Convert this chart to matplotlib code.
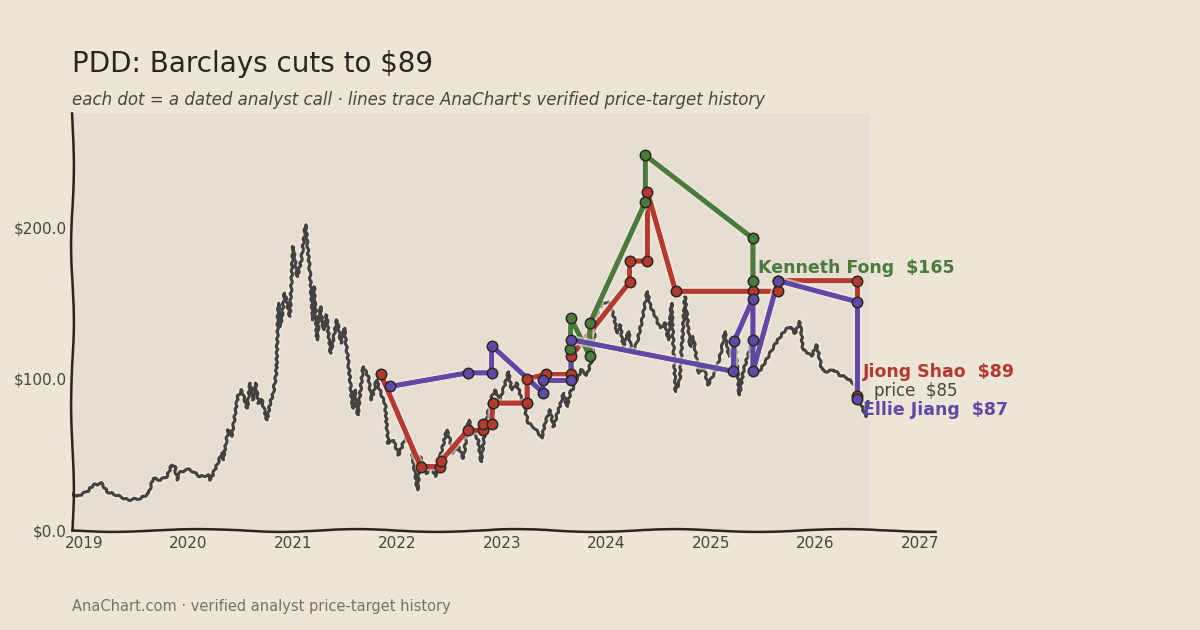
import matplotlib
matplotlib.use("Agg")
import matplotlib.pyplot as plt
import matplotlib.patheffects as pe

# share price (decimal year, USD)
price_dates = [2018.88, 2018.93, 2019.03, 2019.09, 2019.17, 2019.22, 2019.31, 2019.42, 2019.54, 2019.62,
               2019.66, 2019.73, 2019.79, 2019.84, 2019.87, 2019.89, 2019.92, 2020.01, 2020.11, 2020.19,
               2020.21, 2020.25, 2020.32, 2020.33, 2020.38, 2020.41, 2020.43, 2020.47, 2020.51, 2020.56,
               2020.59, 2020.62, 2020.64, 2020.67, 2020.70, 2020.75, 2020.78, 2020.81, 2020.84, 2020.86,
               2020.88, 2020.92, 2020.97, 2021.00, 2021.04, 2021.08, 2021.12, 2021.16, 2021.19, 2021.20,
               2021.23, 2021.26, 2021.29, 2021.32, 2021.36, 2021.42, 2021.46, 2021.49, 2021.53, 2021.57,
               2021.59, 2021.62, 2021.67, 2021.72, 2021.75, 2021.80, 2021.85, 2021.88, 2021.91, 2021.96,
               2022.01, 2022.06, 2022.09, 2022.13, 2022.19, 2022.22, 2022.28, 2022.33, 2022.36, 2022.40,
               2022.44, 2022.47, 2022.50, 2022.53, 2022.58, 2022.63, 2022.68, 2022.73, 2022.77, 2022.80,
               2022.84, 2022.89, 2022.93, 2022.98, 2023.03, 2023.06, 2023.09, 2023.14, 2023.18, 2023.22,
               2023.25, 2023.30, 2023.35, 2023.38, 2023.41, 2023.46, 2023.49, 2023.54, 2023.59, 2023.62,
               2023.66, 2023.68, 2023.71, 2023.76, 2023.81, 2023.86, 2023.89, 2023.92, 2023.97, 2024.02,
               2024.07, 2024.10, 2024.13, 2024.16, 2024.21, 2024.24, 2024.29, 2024.34, 2024.39, 2024.42,
               2024.46, 2024.51, 2024.56, 2024.59, 2024.62, 2024.66, 2024.70, 2024.75, 2024.80, 2024.83,
               2024.88, 2024.93, 2024.97, 2025.02, 2025.05, 2025.10, 2025.13, 2025.17, 2025.23, 2025.27,
               2025.31, 2025.36, 2025.40, 2025.42, 2025.47, 2025.53, 2025.58, 2025.64, 2025.71, 2025.76,
               2025.80, 2025.85, 2025.88, 2025.93, 2025.96, 2026.01, 2026.06, 2026.11, 2026.17, 2026.23,
               2026.30, 2026.36, 2026.39, 2026.43, 2026.48, 2026.50]
price_values = [24.3, 22.1, 25.4, 29.8, 30.9, 25.4, 23.2, 19.9, 21.0, 24.3,
                34.2, 33.1, 35.3, 43.0, 41.9, 33.1, 38.6, 40.2, 35.3, 36.4,
                33.1, 39.7, 50.8, 46.4, 66.2, 61.8, 69.5, 88.3, 92.7, 80.6,
                97.2, 86.1, 97.2, 83.9, 86.1, 72.8, 83.9, 90.5, 103.8, 150.1,
                134.6, 156.8, 141.3, 187.6, 167.7, 178.8, 202.0, 172.0, 139.0, 161.0,
                125.8, 147.9, 132.5, 142.4, 117.0, 139.0, 123.6, 133.6, 110.4, 80.6,
                92.7, 76.2, 108.1, 101.5, 86.1, 99.3, 88.3, 83.9, 57.4, 59.6,
                49.7, 58.5, 61.8, 55.2, 26.5, 48.5, 37.5, 41.9, 35.3, 46.4,
                57.4, 66.2, 59.6, 50.8, 55.2, 47.5, 72.8, 64.0, 59.6, 45.2,
                68.4, 86.1, 92.7, 86.1, 97.2, 104.8, 92.7, 97.2, 88.3, 79.5,
                70.7, 68.4, 64.0, 60.7, 70.7, 79.5, 68.4, 79.5, 90.5, 81.7,
                92.7, 93.8, 99.3, 106.0, 102.6, 112.6, 134.6, 146.8, 150.1, 151.2,
                141.3, 130.3, 135.8, 121.4, 131.3, 117.0, 123.6, 139.0, 157.8, 147.9,
                142.4, 133.6, 136.9, 125.8, 150.1, 91.6, 99.3, 154.5, 121.4, 128.0,
                103.8, 108.1, 96.0, 102.6, 106.0, 119.2, 131.3, 114.8, 123.6, 89.4,
                106.0, 117.0, 125.8, 103.8, 106.0, 112.6, 119.2, 125.8, 132.5, 134.6,
                130.3, 137.9, 119.2, 117.0, 114.8, 122.5, 106.0, 104.8, 106.0, 102.6,
                100.5, 97.2, 91.6, 83.9, 75.0, 85.0]

# analyst price-target histories (decimal year, target USD)
shao_dates = [2021.84, 2022.22, 2022.41, 2022.42, 2022.67, 2022.82, 2022.82, 2022.90, 2022.91, 2023.24,
              2023.24, 2023.42, 2023.66, 2023.66, 2024.22, 2024.22, 2024.39, 2024.39, 2024.66, 2025.40,
              2025.64, 2025.64, 2026.40, 2026.40]
shao_values = [103, 42, 42, 46, 66, 66, 70, 70, 84, 84,
               100, 103, 103, 115, 164, 178, 178, 224, 158, 158,
               158, 165, 165, 89]

fong_dates = [2023.65, 2023.66, 2023.84, 2023.84, 2024.37, 2024.37, 2025.40, 2025.40]
fong_values = [120, 140, 115, 137, 217, 248, 193, 165]

jiang_dates = [2021.93, 2022.67, 2022.90, 2022.90, 2023.39, 2023.39, 2023.66, 2023.66, 2025.21, 2025.22,
               2025.40, 2025.40, 2025.40, 2025.64, 2026.40, 2026.40]
jiang_values = [95, 104, 104, 122, 91, 99, 99, 126, 105, 125,
                153, 126, 105, 165, 151, 87]

year_ticks = [2019, 2020, 2021, 2022, 2023, 2024, 2025, 2026, 2027]
price_ticks = [0, 100, 200]

BG = "#ede5d5"
PLOT_BG = "#e6dfd1"
INK = "#2b241f"
MUTED = "#4d443c"
RED = "#b43a30"
GREEN = "#4a7a3c"
PURPLE = "#5e4aa6"

fig = plt.figure(figsize=(12, 6.3), dpi=100, facecolor=BG)
ax = fig.add_axes([0.06, 0.1587, 0.719, 0.662])
ax.set_facecolor(BG)
ax.set_xlim(2018.885, 2027.14)
ax.set_ylim(0, 276)
ax.axvspan(2018.885, 2026.52, color=PLOT_BG, lw=0, zorder=0)

# price: soft halo underneath, slightly sketchy line on top
ax.plot(price_dates, price_values, color="#f4ede0", lw=5, alpha=0.55, zorder=1.5)
pl, = ax.plot(price_dates, price_values, color="#444240", lw=2.2, zorder=2)
pl.set_sketch_params(scale=0.8, length=8, randomness=2)

for d, v, c in [(shao_dates, shao_values, RED), (fong_dates, fong_values, GREEN),
                (jiang_dates, jiang_values, PURPLE)]:
    ax.plot(d, v, color=c, lw=3.4, alpha=0.95, zorder=3, solid_capstyle="round",
            path_effects=[pe.withStroke(linewidth=6.5, foreground="#f2e6da", alpha=0.6), pe.Normal()])
    ax.plot(d, v, ls="none", marker="o", ms=7.5, mfc=c, mec="#2a2622", mew=1.1, zorder=4)

# end labels
ax.annotate("Kenneth Fong  $165", (fong_dates[-1], fong_values[-1]), xytext=(4, 9),
            textcoords="offset points", color=GREEN, fontsize=12.5, fontweight="bold",
            va="center", ha="left", zorder=6)
ax.annotate("Jiong Shao  $89", (shao_dates[-1], shao_values[-1]), xytext=(4, 17),
            textcoords="offset points", color=RED, fontsize=12.5, fontweight="bold",
            va="center", ha="left", zorder=6)
ax.annotate("price  $85", (price_dates[-1], price_values[-1]), xytext=(4.5, 7.5),
            textcoords="offset points", color=MUTED, fontsize=12,
            va="center", ha="left", zorder=6)
ax.annotate("Ellie Jiang  $87", (jiang_dates[-1], jiang_values[-1]), xytext=(4, -8.5),
            textcoords="offset points", color=PURPLE, fontsize=12.5, fontweight="bold",
            va="center", ha="left", zorder=6)

ax.set_xticks(year_ticks)
ax.set_xticklabels([str(y) for y in year_ticks])
ax.set_yticks(price_ticks)
ax.set_yticklabels(["$%.1f" % t for t in price_ticks])
ax.tick_params(length=0, labelsize=11, colors=MUTED, pad=4)

for s in ["top", "right"]:
    ax.spines[s].set_visible(False)
for s in ["left", "bottom"]:
    ax.spines[s].set_color(INK)
    ax.spines[s].set_linewidth(1.8)
    ax.spines[s].set_sketch_params(scale=1.4, length=180, randomness=2)

fig.text(0.06, 0.899, "PDD: Barclays cuts to $89", fontsize=20, color=INK, va="center")
fig.text(0.06, 0.841, "each dot = a dated analyst call \u00b7 lines trace AnaChart's verified price-target history",
         fontsize=12, style="italic", color=MUTED, va="center")
fig.text(0.06, 0.038, "AnaChart.com \u00b7 verified analyst price-target history",
         fontsize=10.5, color="#7a7068", va="center")

fig.savefig("out.png", dpi=100, facecolor=BG)
